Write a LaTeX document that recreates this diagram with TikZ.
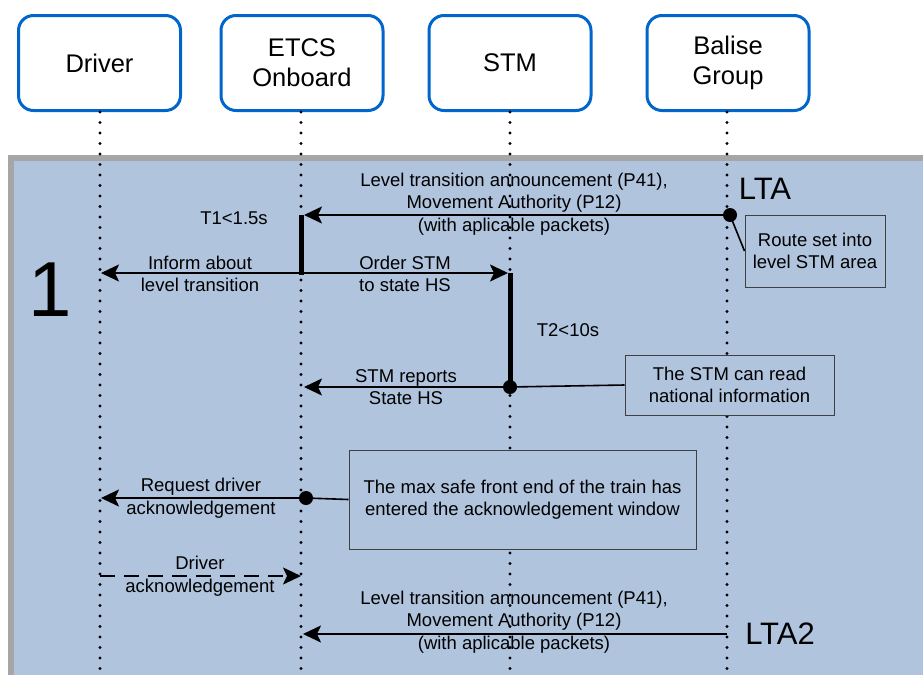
\documentclass[tikz,border=0pt]{standalone}
\usepackage{fontspec}
\setmainfont{Liberation Sans}
\usetikzlibrary{arrows.meta}
\definecolor{hdrblue}{RGB}{0,102,204}
\definecolor{bgblue}{RGB}{176,196,222}
\definecolor{framegrey}{RGB}{166,166,166}
\begin{document}
\begin{tikzpicture}[x=1pt,y=-1pt,
  header/.style={draw=hdrblue, line width=3pt, rounded corners=15pt, fill=white,
    minimum width=162pt, minimum height=95pt, align=center, inner sep=0pt,
    font=\fontsize{25.5}{30}\selectfont},
  lifeline/.style={line width=3.2pt, line cap=round, dash pattern=on 0pt off 10.5pt},
  msg/.style={line width=2pt, -{Stealth[length=18pt,width=17pt,inset=4pt]}},
  dmsg/.style={msg, dash pattern=on 15pt off 9pt},
  lbl/.style={align=center, inner sep=0pt, font=\fontsize{18.5}{22.5}\selectfont},
  note/.style={draw=black!75, line width=1pt, fill=bgblue, align=center, inner sep=0pt,
    font=\fontsize{18.5}{22.5}\selectfont},
  notelink/.style={line width=1.6pt},
  act/.style={line width=5pt},
  evt/.style={circle, fill=black, inner sep=0pt, minimum size=14pt},
  big/.style={inner sep=0pt, font=\fontsize{31}{34}\selectfont}
]
\useasboundingbox (0,0) rectangle (923,675);
% frame
\fill[framegrey] (8,155) rectangle (923,675);
\fill[bgblue] (14,161) rectangle (923,675);

% headers
\node[header] (drv)  at (99.5,63) {Driver};
\node[header] (etcs) at (302,63) {ETCS\\Onboard};
\node[header] (stm)  at (510,63) {STM};
\node[header] (bal)  at (728,63) {Balise\\Group};

% labels
\node[lbl] (lLTA) at (514,204) {Level transition announcement (P41),\\Movement Authority (P12)\\(with aplicable packets)};
\node[lbl] (lInf) at (200,274) {Inform about\\level transition};
\node[lbl] (lOrd) at (405,274) {Order STM\\to state HS};
\node[lbl] (lRep) at (406,387) {STM reports\\State HS};
\node[lbl] (lReq) at (201,498) {Request driver\\acknowledgement};
\node[lbl] (lAck) at (200,576) {Driver\\acknowledgement};
\node[lbl] (lLTA2) at (514,622) {Level transition announcement (P41),\\Movement Authority (P12)\\(with aplicable packets)};
\node[lbl] (t1) at (234,218) {T1<1.5s};
\node[lbl] (t2) at (568,330) {T2<10s};
\node[big] (lta) at (765,189) {LTA};
\node[big] (lta2) at (780,634) {LTA2};
\node[inner sep=0pt, font=\fontsize{78}{80}\selectfont] (one) at (50,290) {1};

% lifelines
\coordinate (drvEnd) at (100,675);
\coordinate (etcsEnd) at (301,675);
\coordinate (stmEnd) at (510,675);
\coordinate (balEnd) at (727,675);
\coordinate (drvTop) at (100,112);
\coordinate (etcsTop) at (301,112);
\coordinate (stmTop) at (510,112);
\coordinate (balTop) at (727,112);
\draw[lifeline] (drvTop) -- (drvEnd);
\draw[lifeline] (etcsTop) -- (etcsEnd);
\draw[lifeline] (stmTop) -- (stmEnd);
\draw[lifeline] (balTop) -- (balEnd);

% points on lifelines
\coordinate (e215) at (304,215);
\coordinate (e215b) at (301,215);
\coordinate (e275) at (301,275);
\coordinate (e273) at (301,273);
\coordinate (d273) at (101,273);
\coordinate (s273) at (508,273);
\coordinate (s273b) at (510,273);
\coordinate (e387) at (304,387);
\coordinate (d498) at (101,498);
\coordinate (d576) at (100,576);
\coordinate (e576) at (301,576);
\coordinate (b634) at (727,634);
\coordinate (e634) at (303,634);

% activation bars
\draw[act] (e215b) -- (e275);
\node[evt] (stmDot) at (510,387) {};
\draw[act] (s273b) -- (stmDot.center);

% events
\node[evt] (ltaDot) at (730,215) {};
\node[evt] (reqDot) at (306,498) {};

% messages
\draw[msg] (ltaDot.center) -- (e215);
\draw[msg] (e273) -- (d273);
\draw[msg] (e273) -- (s273);
\draw[msg] (stmDot.center) -- (e387);
\draw[msg] (reqDot.center) -- (d498);
\draw[dmsg] (d576) -- (e576);
\draw[msg] (b634) -- (e634);

% notes
\node[note, minimum width=140pt, minimum height=72pt] (nRoute) at (815,251) {Route set into\\level STM area};
\node[note, minimum width=209pt, minimum height=60pt] (nStm) at (729.5,385) {The STM can read\\national information};
\node[note, minimum width=347pt, minimum height=99pt] (nMax) at (522.5,499.5) {The max safe front end of the train has\\entered the acknowledgement window};
\draw[notelink] (ltaDot.center) -- (nRoute.west);
\draw[notelink] (nStm.west) -- (stmDot.center);
\draw[notelink] (nMax.west) -- (reqDot.center);
\end{tikzpicture}
\end{document}
